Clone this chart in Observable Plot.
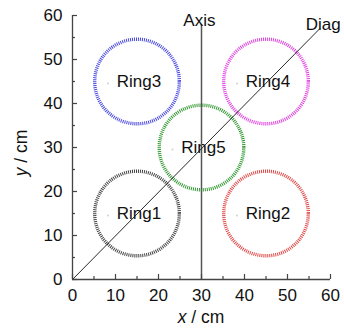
<!DOCTYPE html>
<html><head><meta charset="utf-8">
<script src="https://cdn.jsdelivr.net/npm/d3@7"></script>
<script src="https://cdn.jsdelivr.net/npm/@observablehq/plot@0.6"></script>
<style>body{margin:0;background:#fff}svg{display:block;font-family:Arial,"Liberation Sans",sans-serif}</style>
</head><body><div id="chart"></div>
<script>
const xTicks = [0, 10, 20, 30, 40, 50, 60];
const yTicks = [0, 10, 20, 30, 40, 50, 60];
const minorTicks = [5, 15, 25, 35, 45, 55];
const ringNames = ["Ring1", "Ring2", "Ring3", "Ring4", "Ring5"];
const ringX = [15, 45, 15, 45, 30];
const ringY = [15, 15, 45, 45, 30];
const ringR = [9.8, 9.8, 9.8, 9.8, 9.8];
const ringColors = ["#444444", "#e04848", "#4848e0", "#e040e0", "#309830"];
const axisLineX = [30];
const axisLineY = [0, 58];
const diagX = [0, 57.5];
const diagY = [0, 57];
const lineLabels = ["Axis", "Diag"];
const lineLabelX = [29.5, 58.3];
const lineLabelY = [58.9, 58];

const rings = ringNames.map((n, i) => ({name: n, x: ringX[i], y: ringY[i], r: ringR[i], c: ringColors[i]}));
const diag = diagX.map((x, i) => ({x, y: diagY[i]}));
const labels = lineLabels.map((t, i) => ({t, x: lineLabelX[i], y: lineLabelY[i]}));

const axisColor = "#444";
const plot = Plot.plot({
  width: 344, height: 331,
  marginLeft: 72, marginRight: 14, marginTop: 15, marginBottom: 52,
  x: {domain: [0, 60], axis: null},
  y: {domain: [0, 60], axis: null},
  r: {type: "linear", domain: [0, 60], range: [0, 259]},
  style: {fontFamily: "Arial, 'Liberation Sans', sans-serif", fontSize: "17px", color: "#111"},
  marks: [
    Plot.dot(rings, {x: "x", y: "y", r: "r", stroke: "c", strokeWidth: 3.4, strokeDasharray: "1 1", fill: "none"}),
    Plot.dot(rings, {x: "x", y: "y", r: 0.9, dx: -29, dy: 2, fill: "#ccc", stroke: "none"}),
    Plot.text(rings, {x: "x", y: "y", text: "name", fontSize: 17, dx: 2, fill: "#111"}),
    Plot.ruleX(axisLineX, {y1: axisLineY[0], y2: axisLineY[1], stroke: "#555", strokeWidth: 1.5}),
    Plot.line(diag, {x: "x", y: "y", stroke: "#111", strokeWidth: 0.9}),
    Plot.text(labels, {x: "x", y: "y", text: "t", fontSize: 17, fill: "#111"}),
    Plot.ruleY([0], {stroke: axisColor, strokeWidth: 1.3}),
    Plot.ruleX([0], {stroke: axisColor, strokeWidth: 1.3}),
    Plot.tickX(xTicks, {x: d => d, insetTop: 259, stroke: axisColor, strokeWidth: 1.2}),
    Plot.tickX(minorTicks, {x: d => d, insetTop: 261, stroke: axisColor, strokeWidth: 1.2}),
    Plot.tickY(yTicks, {y: d => d, insetRight: 253, stroke: axisColor, strokeWidth: 1.2}),
    Plot.tickY(minorTicks, {y: d => d, insetRight: 255, stroke: axisColor, strokeWidth: 1.2}),
    Plot.axisX({ticks: xTicks, tickSize: 0, tickPadding: 9, fontSize: 17, label: null, tickFormat: d => d}),
    Plot.axisY({ticks: yTicks, tickSize: 0, tickPadding: 10, fontSize: 17, label: null, tickFormat: d => d})
  ]
});
document.getElementById("chart").appendChild(plot);
const svg = d3.select(plot);
const xt = svg.append("text").attr("x", 201).attr("y", 318).attr("text-anchor", "middle")
  .attr("dominant-baseline", "middle").attr("font-size", 17.5).attr("fill", "#111");
xt.append("tspan").attr("font-style", "italic").text("x");
xt.append("tspan").text(" / cm");
const yt = svg.append("text").attr("transform", "translate(22,153) rotate(-90)").attr("text-anchor", "middle")
  .attr("dominant-baseline", "middle").attr("font-size", 17.5).attr("fill", "#111");
yt.append("tspan").attr("font-style", "italic").text("y");
yt.append("tspan").text(" / cm");
</script></body></html>
